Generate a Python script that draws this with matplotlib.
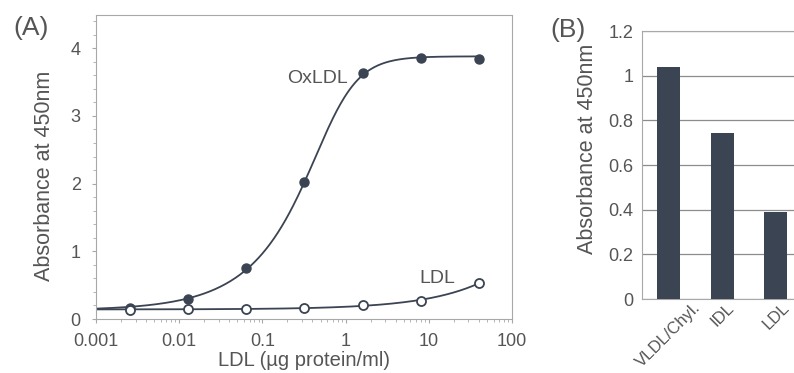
import matplotlib
matplotlib.use("Agg")
import matplotlib.pyplot as plt
from matplotlib.transforms import ScaledTranslation
import numpy as np

plt.rcParams['font.family'] = ['Liberation Sans', 'DejaVu Sans']

# panel A data: dilution series
conc = [0.00256, 0.0128, 0.064, 0.32, 1.6, 8, 40]
oxldl = [0.16, 0.30, 0.75, 2.03, 3.64, 3.86, 3.84]
ldl = [0.13, 0.15, 0.15, 0.16, 0.21, 0.27, 0.53]

# panel B data
fractions = ["VLDL/Chyl.", "IDL", "LDL"]
absorb = [1.04, 0.745, 0.39]

ink = "#3b4452"
txt = "#555555"
frame = "#a8a8a8"


def fit_5pl(x, y):
    # brute force over centre / slope / asymmetry, closed form for bottom & span
    lx = np.log10(x)
    y = np.asarray(y, dtype=float)
    c = np.arange(-3, 4.01, 0.05)[:, None, None, None]
    h = np.linspace(0.3, 4.0, 38)[None, :, None, None]
    g = np.linspace(0.2, 3.0, 15)[None, None, :, None]
    s = (1.0 + 10 ** (h * (c - lx))) ** (-g)
    sm = s.mean(-1, keepdims=True)
    ym = y.mean()
    k = ((s - sm) * (y - ym)).sum(-1) / (((s - sm) ** 2).sum(-1) + 1e-12)
    b = ym - k * sm[..., 0]
    err = ((b[..., None] + k[..., None] * s - y) ** 2).sum(-1)
    i = np.unravel_index(np.argmin(err), err.shape)
    cc, hh, gg = c.ravel()[i[0]], h.ravel()[i[1]], g.ravel()[i[2]]
    bb, kk = b[i], k[i]
    return lambda xx: bb + kk * (1.0 + 10 ** (hh * (cc - np.log10(xx)))) ** (-gg)


fig = plt.figure(figsize=(7.94, 3.73), dpi=100)

# ---- panel A
ax1 = fig.add_axes([96 / 794, 1 - 319 / 373, (512 - 96) / 794, (319 - 15) / 373])
xs = np.logspace(-3, np.log10(40), 300)
f_ox = fit_5pl(conc, oxldl)
f_l = fit_5pl(conc, ldl)
ax1.plot(xs, f_ox(xs), color=ink, lw=1.3, zorder=2)
ax1.plot(xs, f_l(xs), color=ink, lw=1.3, zorder=2)
ax1.plot(conc, oxldl, 'o', color=ink, ms=6.5, zorder=3)
ax1.plot(conc, ldl, 'o', mfc='white', mec=ink, mew=1.3, ms=6.5, zorder=4)
ax1.set_xscale('log')
ax1.set_xlim(0.001, 100)
ax1.set_ylim(0, 4.49)
ax1.set_yticks([0, 1, 2, 3, 4])
ax1.set_yticks(np.arange(0, 4.41, 0.2), minor=True)
ax1.set_xticks([0.001, 0.01, 0.1, 1, 10, 100])
ax1.set_xticklabels(["0.001", "0.01", "0.1", "1", "10", "100"])
for sp in ax1.spines.values():
    sp.set_color(frame)
    sp.set_linewidth(0.8)
    sp.set_linestyle((0, (1, 1)))
ax1.tick_params(colors=frame, labelcolor=txt, labelsize=13, length=3, width=0.8)
ax1.tick_params(axis='y', pad=8)
ax1.tick_params(axis='x', pad=7)
ax1.tick_params(which='minor', colors=frame, length=2, width=0.6)
ax1.set_ylabel("Absorbance at 450nm", color=txt, fontsize=15.5)
ax1.yaxis.set_label_coords(-0.098, 0.47)
ax1.set_xlabel("LDL (\u00b5g protein/ml)", color=txt, fontsize=14.5, labelpad=1)
ax1.text(1.07, 3.48, "OxLDL", ha='right', va='baseline', color=txt, fontsize=14)
ax1.text(21, 0.53, "LDL", ha='right', va='baseline', color=txt, fontsize=14)
fig.text(13 / 794, 1 - 28 / 373, "(A)", color=txt, fontsize=19, va='center')

# ---- panel B (axes run past the right edge of the image)
ax2 = fig.add_axes([642 / 794, 1 - 299 / 373, 321 / 794, (299 - 31) / 373])
pos = np.arange(len(fractions))
ax2.bar(pos, absorb, width=0.43, color=ink, zorder=3)
ax2.set_xlim(-0.5, 5.5)
ax2.set_ylim(0, 1.2)
ax2.set_yticks(np.arange(0, 1.21, 0.2))
ax2.set_yticklabels(["0", "0.2", "0.4", "0.6", "0.8", "1", "1.2"])
ax2.yaxis.grid(True, color="#8c8c8c", lw=0.9, zorder=0)
ax2.set_xticks(pos)
ax2.set_xticklabels(fractions, rotation=45, ha='center', fontsize=12)
off = ScaledTranslation(-4 / 100, 0, fig.dpi_scale_trans)
for lab in ax2.get_xticklabels():
    lab.set_transform(lab.get_transform() + off)
for sp in ax2.spines.values():
    sp.set_color(frame)
    sp.set_linewidth(0.8)
ax2.tick_params(colors=frame, labelcolor=txt, labelsize=13, length=0, pad=6)
ax2.tick_params(axis='x', pad=1, labelsize=12)
ax2.set_ylabel("Absorbance at 450nm", color=txt, fontsize=15.5)
ax2.yaxis.set_label_coords(-44 / 321, 0.56)
fig.text(550 / 794, 1 - 30 / 373, "(B)", color=txt, fontsize=19, va='center')

fig.savefig("out.png", dpi=100)
